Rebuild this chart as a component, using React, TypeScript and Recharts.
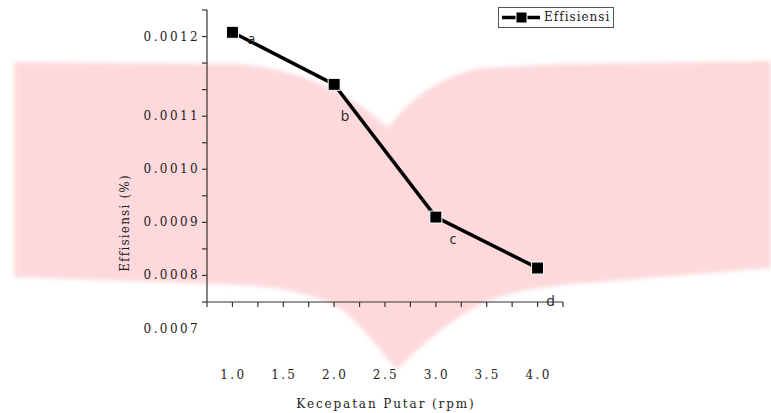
import React from 'react';
import { LineChart, Line, XAxis, YAxis, Legend, LabelList, Label } from 'recharts';

// ---- data ----
const speeds = [1.0, 2.0, 3.0, 4.0];
const efficiency = [0.001258, 0.00116, 0.00091, 0.000814];
const pointLetters = ['a', 'b', 'c', 'd'];
const seriesName = 'Effisiensi';

const xTicks = [0.75, 1, 1.25, 1.5, 1.75, 2, 2.25, 2.5, 2.75, 3, 3.25, 3.5, 3.75, 4, 4.25];
const xLabelValues = [1, 1.5, 2, 2.5, 3, 3.5, 4];
const xLabelTexts = ['1.0', '1.5', '2.0', '2.5', '3.0', '3.5', '4.0'];

const yTicks = [0.00075, 0.0008, 0.00085, 0.0009, 0.00095, 0.001, 0.00105, 0.0011, 0.00115, 0.0012, 0.00125, 0.0013];
const yLabelValues = [0.00125, 0.0011, 0.001, 0.0009, 0.0008];
const yLabelTexts = ['0.0012', '0.0011', '0.0010', '0.0009', '0.0008'];
const yBelowAxisText = '0.0007';

const xTitle = 'Kecepatan  Putar (rpm)';
const yTitle = 'Effisiensi (%)';

const data = speeds.map((x, i) => ({ x, y: efficiency[i], letter: pointLetters[i] }));

// ---- styling / layout ----
const serifStyle: React.CSSProperties = { fontFamily: "'DejaVu Serif', serif" };
const sansStyle: React.CSSProperties = { fontFamily: "'Open Sans', 'Liberation Sans', sans-serif" };
const axisColor = '#333';
const letterOffsets = [
  { dx: 19, dy: 6 },
  { dx: 11, dy: 31 },
  { dx: 17, dy: 21 },
  { dx: 13, dy: 32 },
];

const findLabel = (v: number, values: number[], texts: string[]) => {
  const i = values.findIndex((u) => Math.abs(u - v) < 1e-9);
  return i >= 0 ? texts[i] : null;
};

const XTick = (props: any) => {
  const { x, y, payload } = props;
  const t = findLabel(payload.value, xLabelValues, xLabelTexts);
  if (!t) return <g />;
  return (
    <text x={x + 1} y={y + 66} textAnchor="middle" dominantBaseline="central"
      style={serifStyle} fontSize={12} letterSpacing={2.4} fill="#222">{t}</text>
  );
};

const YTick = (props: any) => {
  const { x, y, payload } = props;
  const t = findLabel(payload.value, yLabelValues, yLabelTexts);
  const isBottom = Math.abs(payload.value - yTicks[0]) < 1e-9;
  return (
    <g>
      {t && (
        <text x={x} y={y} textAnchor="end" dominantBaseline="central"
          style={serifStyle} fontSize={12} letterSpacing={2.4} fill="#222">{t}</text>
      )}
      {isBottom && (
        <text x={x} y={y + 26.5} textAnchor="end" dominantBaseline="central"
          style={serifStyle} fontSize={12} letterSpacing={2.4} fill="#222">{yBelowAxisText}</text>
      )}
    </g>
  );
};

const SquareDot = (props: any) => {
  const { cx, cy, index } = props;
  if (cx == null || cy == null) return <g key={index} />;
  return <rect key={index} x={cx - 6} y={cy - 6} width={12} height={12} fill="#000" stroke="#fff" strokeWidth={1} />;
};

const LetterLabel = (props: any) => {
  const { x, y, value, index } = props;
  const o = letterOffsets[index] || { dx: 12, dy: 20 };
  return (
    <text x={x + o.dx} y={y + o.dy} textAnchor="middle" dominantBaseline="central"
      style={sansStyle} fontSize={14} fill="#222">{value}</text>
  );
};

const XTitle = () => (
  <text x={386} y={404} textAnchor="middle" dominantBaseline="central"
    style={serifStyle} fontSize={12} letterSpacing={1.9} fill="#222">{xTitle}</text>
);

const YTitle = () => (
  <text x={125} y={223} transform="rotate(-90 125 223)" textAnchor="middle" dominantBaseline="central"
    style={serifStyle} fontSize={12} letterSpacing={1.2} fill="#222">{yTitle}</text>
);

const LegendBox = (props: any) => {
  const name = props.payload && props.payload[0] ? props.payload[0].value : seriesName;
  return (
    <div style={{
      border: '1px solid #555', width: 114, height: 19, display: 'flex', alignItems: 'center',
      boxSizing: 'content-box', background: '#fff',
    }}>
      <svg width={42} height={19} style={{ display: 'block' }}>
        <line x1={3} y1={9.5} x2={41} y2={9.5} stroke="#000" strokeWidth={3.5} />
        <rect x={17} y={4} width={11} height={11} fill="#000" stroke="#fff" strokeWidth={1} />
      </svg>
      <span style={{ ...serifStyle, fontSize: 12, letterSpacing: 1, color: '#222', marginLeft: 3, lineHeight: '19px' }}>{name}</span>
    </div>
  );
};

const watermark =
  'M14,62 L240,64 C300,70 350,92 388,128 C405,105 430,80 480,68 L560,64 L771,61 L771,268 ' +
  'L600,282 C540,286 500,292 470,310 C440,330 415,350 397,370 C380,350 365,330 345,312 ' +
  'C320,294 280,287 240,285 L14,277 Z';

export default function App() {
  return (
    <div style={{ position: 'absolute', left: 0, top: 0, width: 771, height: 413, background: '#fff', ...serifStyle }}>
      <svg width={771} height={413} style={{ position: 'absolute', left: 0, top: 0 }}>
        <defs>
          <filter id="soft" x="-5%" y="-5%" width="110%" height="110%">
            <feGaussianBlur stdDeviation="2" />
          </filter>
        </defs>
        <path d={watermark} fill="#FDD9DC" filter="url(#soft)" />
      </svg>
      <div style={{ position: 'absolute', left: 0, top: 0 }}>
        <LineChart width={771} height={413} data={data} margin={{ top: 10, right: 208, bottom: 3, left: 147 }}>
          <XAxis type="number" dataKey="x" domain={[0.75, 4.25]} ticks={xTicks} interval={0}
            tick={<XTick />} tickSize={5} height={108}
            axisLine={{ stroke: axisColor, strokeWidth: 1.2 }} tickLine={{ stroke: axisColor, strokeWidth: 1.2 }}>
            <Label content={<XTitle />} />
          </XAxis>
          <YAxis type="number" domain={[0.00075, 0.0013]} ticks={yTicks} interval={0} allowDataOverflow
            tick={<YTick />} tickSize={5} width={60}
            axisLine={{ stroke: axisColor, strokeWidth: 1.2 }} tickLine={{ stroke: axisColor, strokeWidth: 1.2 }}>
            <Label content={<YTitle />} />
          </YAxis>
          <Legend content={<LegendBox />} layout="horizontal" verticalAlign="middle" align="center"
            wrapperStyle={{ position: 'absolute', top: 7, left: 498, width: 'auto', height: 'auto' }} />
          <Line type="linear" dataKey="y" name={seriesName} stroke="#000" strokeWidth={3.5}
            dot={<SquareDot />} activeDot={false} isAnimationActive={false}>
            <LabelList dataKey="letter" content={<LetterLabel />} />
          </Line>
        </LineChart>
      </div>
    </div>
  );
}
